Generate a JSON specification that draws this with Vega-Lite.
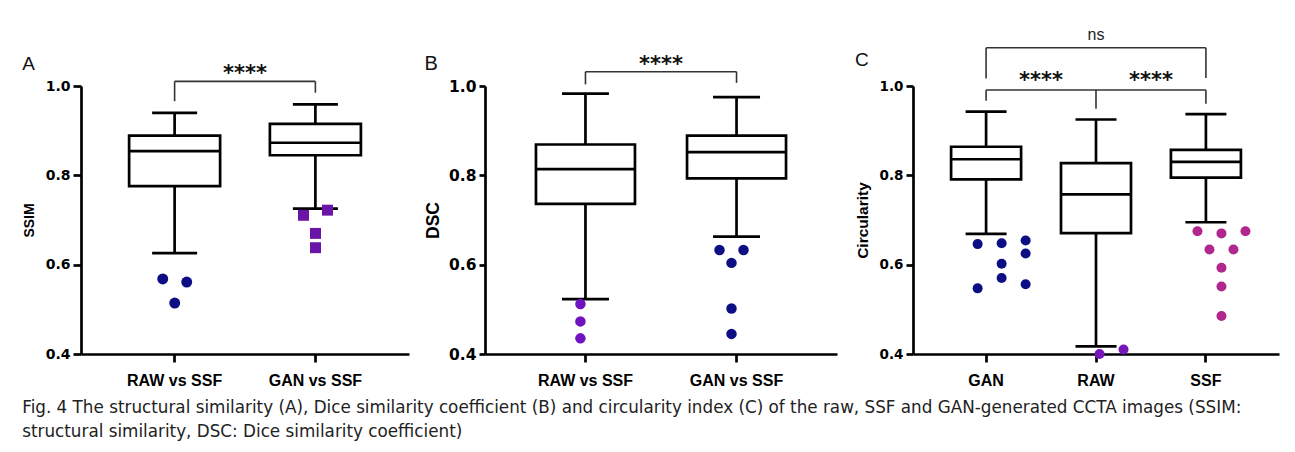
{
  "$schema": "https://vega.github.io/schema/vega-lite/v6.json",
  "background": "white",
  "padding": {"left": 22, "top": 26, "right": 5, "bottom": 5},
  "title": {
    "text": ["Fig. 4  The structural similarity (A), Dice similarity coefficient (B) and circularity index (C) of the raw, SSF and GAN-generated CCTA images (SSIM:", "structural similarity, DSC: Dice similarity coefficient)"],
    "orient": "bottom", "anchor": "start", "frame": "bounds",
    "font": "DejaVu Sans", "fontSize": 16.8, "fontWeight": "normal", "lineHeight": 24, "offset": 12, "color": "#222222"
  },
  "datasets": {
    "boxes": [
      {"panel": "A", "cat": "RAW vs SSF", "lower": 0.626, "q1": 0.776, "median": 0.854, "q3": 0.889, "upper": 0.940},
      {"panel": "A", "cat": "GAN vs SSF", "lower": 0.7255, "q1": 0.845, "median": 0.873, "q3": 0.915, "upper": 0.959},
      {"panel": "B", "cat": "RAW vs SSF", "lower": 0.523, "q1": 0.736, "median": 0.814, "q3": 0.869, "upper": 0.983},
      {"panel": "B", "cat": "GAN vs SSF", "lower": 0.663, "q1": 0.793, "median": 0.852, "q3": 0.889, "upper": 0.975},
      {"panel": "C", "cat": "GAN", "lower": 0.669, "q1": 0.791, "median": 0.836, "q3": 0.864, "upper": 0.9425},
      {"panel": "C", "cat": "RAW", "lower": 0.417, "q1": 0.6705, "median": 0.7575, "q3": 0.8275, "upper": 0.925},
      {"panel": "C", "cat": "SSF", "lower": 0.695, "q1": 0.795, "median": 0.830, "q3": 0.857, "upper": 0.937}
    ],
    "outliers": [
      {"panel": "A", "cat": "RAW vs SSF", "value": 0.568, "slot": -1},
      {"panel": "A", "cat": "RAW vs SSF", "value": 0.561, "slot": 1},
      {"panel": "A", "cat": "RAW vs SSF", "value": 0.514, "slot": 0},
      {"panel": "A", "cat": "GAN vs SSF", "value": 0.7105, "slot": -1},
      {"panel": "A", "cat": "GAN vs SSF", "value": 0.722, "slot": 1},
      {"panel": "A", "cat": "GAN vs SSF", "value": 0.670, "slot": 0},
      {"panel": "A", "cat": "GAN vs SSF", "value": 0.638, "slot": 0},
      {"panel": "B", "cat": "RAW vs SSF", "value": 0.512, "slot": 0},
      {"panel": "B", "cat": "RAW vs SSF", "value": 0.473, "slot": 0},
      {"panel": "B", "cat": "RAW vs SSF", "value": 0.435, "slot": 0},
      {"panel": "B", "cat": "GAN vs SSF", "value": 0.633, "slot": -1},
      {"panel": "B", "cat": "GAN vs SSF", "value": 0.633, "slot": 1},
      {"panel": "B", "cat": "GAN vs SSF", "value": 0.604, "slot": 0},
      {"panel": "B", "cat": "GAN vs SSF", "value": 0.502, "slot": 0},
      {"panel": "B", "cat": "GAN vs SSF", "value": 0.445, "slot": 0},
      {"panel": "C", "cat": "GAN", "value": 0.646, "slot": -2},
      {"panel": "C", "cat": "GAN", "value": 0.648, "slot": 0},
      {"panel": "C", "cat": "GAN", "value": 0.654, "slot": 2},
      {"panel": "C", "cat": "GAN", "value": 0.625, "slot": 2},
      {"panel": "C", "cat": "GAN", "value": 0.602, "slot": 0},
      {"panel": "C", "cat": "GAN", "value": 0.570, "slot": 0},
      {"panel": "C", "cat": "GAN", "value": 0.547, "slot": -2},
      {"panel": "C", "cat": "GAN", "value": 0.556, "slot": 2},
      {"panel": "C", "cat": "RAW", "value": 0.400, "slot": -1},
      {"panel": "C", "cat": "RAW", "value": 0.410, "slot": 1},
      {"panel": "C", "cat": "SSF", "value": 0.675, "slot": -2},
      {"panel": "C", "cat": "SSF", "value": 0.670, "slot": 0},
      {"panel": "C", "cat": "SSF", "value": 0.675, "slot": 2},
      {"panel": "C", "cat": "SSF", "value": 0.634, "slot": -1},
      {"panel": "C", "cat": "SSF", "value": 0.634, "slot": 1},
      {"panel": "C", "cat": "SSF", "value": 0.593, "slot": 0},
      {"panel": "C", "cat": "SSF", "value": 0.551, "slot": 0},
      {"panel": "C", "cat": "SSF", "value": 0.485, "slot": 0}
    ],
    "brackets": [
      {"panel": "A", "from": "RAW vs SSF", "to": "GAN vs SSF", "level": 1.0103},
      {"panel": "B", "from": "RAW vs SSF", "to": "GAN vs SSF", "level": 1.032},
      {"panel": "C", "from": "GAN", "to": "SSF", "level": 1.0857},
      {"panel": "C", "from": "GAN", "to": "RAW", "level": 0.991},
      {"panel": "C", "from": "RAW", "to": "SSF", "level": 0.991}
    ],
    "legs": [
      {"panel": "A", "cat": "RAW vs SSF", "top": 1.0103, "bottom": 0.966},
      {"panel": "A", "cat": "GAN vs SSF", "top": 1.0103, "bottom": 0.985},
      {"panel": "B", "cat": "RAW vs SSF", "top": 1.032, "bottom": 1.0036},
      {"panel": "B", "cat": "GAN vs SSF", "top": 1.032, "bottom": 1.007},
      {"panel": "C", "cat": "GAN", "top": 1.0857, "bottom": 1.017},
      {"panel": "C", "cat": "SSF", "top": 1.0857, "bottom": 1.018},
      {"panel": "C", "cat": "GAN", "top": 0.991, "bottom": 0.967},
      {"panel": "C", "cat": "RAW", "top": 0.991, "bottom": 0.949},
      {"panel": "C", "cat": "SSF", "top": 0.991, "bottom": 0.960}
    ],
    "labels": [
      {"panel": "A", "cat": "RAW vs SSF", "level": 1.027, "label": "****"},
      {"panel": "B", "cat": "RAW vs SSF", "level": 1.047, "label": "****"},
      {"panel": "C", "cat": "GAN", "level": 1.011, "label": "****"},
      {"panel": "C", "cat": "RAW", "level": 1.011, "label": "****"},
      {"panel": "C", "cat": "RAW", "level": 1.115, "label": "ns"}
    ]
  },
  "bounds": "flush",
  "spacing": 76,
  "resolve": {"scale": {"color": "independent", "shape": "independent"}},
  "hconcat": [
    {
      "width": 328, "height": 268,
      "title": {"text": "A", "anchor": "start", "frame": "bounds", "fontSize": 19, "fontWeight": "normal", "offset": -11},
      "encoding": {"x": {"field": "cat", "type": "nominal", "scale": {"domain": ["RAW vs SSF", "GAN vs SSF"], "paddingInner": 0, "paddingOuter": 0.165}, "axis": {"title": null}}},
      "layer": [
        {"data": {"name": "boxes"}, "transform": [{"filter": "datum.panel == 'A'"}], "mark": {"type": "rule", "color": "black", "strokeWidth": 2.7},
         "encoding": {"y": {"field": "lower", "type": "quantitative", "scale": {"domain": [0.4, 1.0], "nice": false, "zero": false}, "axis": {"title": "SSIM", "values": [0.4, 0.6, 0.8, 1.0], "format": ".1f", "titleFontSize": 14, "labelFontSize": 14, "titlePadding": 9}}, "y2": {"field": "upper"}}},
        {"data": {"name": "boxes"}, "transform": [{"filter": "datum.panel == 'A'"}], "mark": {"type": "bar", "size": 91, "fill": "white", "stroke": "black", "strokeWidth": 2.7},
         "encoding": {"y": {"field": "q1", "type": "quantitative", "scale": {"domain": [0.4, 1.0], "nice": false, "zero": false}}, "y2": {"field": "q3"}}},
        {"data": {"name": "boxes"}, "transform": [{"filter": "datum.panel == 'A'"}], "mark": {"type": "tick", "color": "black", "size": 91, "thickness": 2.7, "opacity": 1},
         "encoding": {"y": {"field": "median", "type": "quantitative", "scale": {"domain": [0.4, 1.0], "nice": false, "zero": false}}}},
        {"data": {"name": "boxes"}, "transform": [{"filter": "datum.panel == 'A'"}], "mark": {"type": "tick", "color": "black", "size": 45, "thickness": 2.7, "opacity": 1},
         "encoding": {"y": {"field": "lower", "type": "quantitative", "scale": {"domain": [0.4, 1.0], "nice": false, "zero": false}}}},
        {"data": {"name": "boxes"}, "transform": [{"filter": "datum.panel == 'A'"}], "mark": {"type": "tick", "color": "black", "size": 45, "thickness": 2.7, "opacity": 1},
         "encoding": {"y": {"field": "upper", "type": "quantitative", "scale": {"domain": [0.4, 1.0], "nice": false, "zero": false}}}},
        {"data": {"name": "outliers"}, "transform": [{"filter": "datum.panel == 'A'"}], "mark": {"type": "point", "filled": true, "opacity": 1, "size": 120},
         "encoding": {
           "y": {"field": "value", "type": "quantitative", "scale": {"domain": [0.4, 1.0], "nice": false, "zero": false}},
           "xOffset": {"field": "slot", "type": "quantitative", "scale": {"domain": [-2, 2], "range": [46.5, 94.5]}},
           "color": {"field": "cat", "type": "nominal", "scale": {"domain": ["RAW vs SSF", "GAN vs SSF"], "range": ["#0d0e84", "#6b14a8"]}, "legend": null},
           "shape": {"field": "cat", "type": "nominal", "scale": {"domain": ["RAW vs SSF", "GAN vs SSF"], "range": ["circle", "square"]}, "legend": null}}},
        {"data": {"name": "brackets"}, "transform": [{"filter": "datum.panel == 'A'"}], "mark": {"type": "rule", "color": "#333333", "strokeWidth": 1.6},
         "encoding": {"x": {"field": "from", "type": "nominal"}, "x2": {"field": "to"}, "y": {"field": "level", "type": "quantitative", "scale": {"domain": [0.4, 1.0], "nice": false, "zero": false}}}},
        {"data": {"name": "legs"}, "transform": [{"filter": "datum.panel == 'A'"}], "mark": {"type": "rule", "color": "#333333", "strokeWidth": 1.6},
         "encoding": {"y": {"field": "top", "type": "quantitative", "scale": {"domain": [0.4, 1.0], "nice": false, "zero": false}}, "y2": {"field": "bottom"}}},
        {"data": {"name": "labels"}, "transform": [{"filter": "datum.panel == 'A'"}], "mark": {"type": "text", "font": "DejaVu Sans", "fontWeight": "bold", "fontSize": 21, "baseline": "middle", "color": "#111111"},
         "encoding": {"x": {"field": "cat", "type": "nominal", "bandPosition": 1}, "y": {"field": "level", "type": "quantitative", "scale": {"domain": [0.4, 1.0], "nice": false, "zero": false}}, "text": {"field": "label"}}}
      ]
    },
    {
      "width": 352, "height": 268,
      "title": {"text": "B", "anchor": "start", "frame": "bounds", "fontSize": 20, "fontWeight": "normal", "offset": -20},
      "encoding": {"x": {"field": "cat", "type": "nominal", "scale": {"domain": ["RAW vs SSF", "GAN vs SSF"], "paddingInner": 0, "paddingOuter": 0.165}, "axis": {"title": null}}},
      "layer": [
        {"data": {"name": "boxes"}, "transform": [{"filter": "datum.panel == 'B'"}], "mark": {"type": "rule", "color": "black", "strokeWidth": 2.7},
         "encoding": {"y": {"field": "lower", "type": "quantitative", "scale": {"domain": [0.4, 1.0], "nice": false, "zero": false}, "axis": {"title": "DSC", "values": [0.4, 0.6, 0.8, 1.0], "format": ".1f", "titleFontSize": 17.5, "labelFontSize": 15.5, "titlePadding": 6, "tickSize": 6}}, "y2": {"field": "upper"}}},
        {"data": {"name": "boxes"}, "transform": [{"filter": "datum.panel == 'B'"}], "mark": {"type": "bar", "size": 99, "fill": "white", "stroke": "black", "strokeWidth": 2.7},
         "encoding": {"y": {"field": "q1", "type": "quantitative", "scale": {"domain": [0.4, 1.0], "nice": false, "zero": false}}, "y2": {"field": "q3"}}},
        {"data": {"name": "boxes"}, "transform": [{"filter": "datum.panel == 'B'"}], "mark": {"type": "tick", "color": "black", "size": 99, "thickness": 2.7, "opacity": 1},
         "encoding": {"y": {"field": "median", "type": "quantitative", "scale": {"domain": [0.4, 1.0], "nice": false, "zero": false}}}},
        {"data": {"name": "boxes"}, "transform": [{"filter": "datum.panel == 'B'"}], "mark": {"type": "tick", "color": "black", "size": 47, "thickness": 2.7, "opacity": 1},
         "encoding": {"y": {"field": "lower", "type": "quantitative", "scale": {"domain": [0.4, 1.0], "nice": false, "zero": false}}}},
        {"data": {"name": "boxes"}, "transform": [{"filter": "datum.panel == 'B'"}], "mark": {"type": "tick", "color": "black", "size": 47, "thickness": 2.7, "opacity": 1},
         "encoding": {"y": {"field": "upper", "type": "quantitative", "scale": {"domain": [0.4, 1.0], "nice": false, "zero": false}}}},
        {"data": {"name": "outliers"}, "transform": [{"filter": "datum.panel == 'B'"}], "mark": {"type": "point", "shape": "circle", "filled": true, "opacity": 1, "size": 110},
         "encoding": {
           "y": {"field": "value", "type": "quantitative", "scale": {"domain": [0.4, 1.0], "nice": false, "zero": false}},
           "xOffset": {"field": "slot", "type": "quantitative", "scale": {"domain": [-2, 2], "range": [53, 98]}},
           "color": {"field": "cat", "type": "nominal", "scale": {"domain": ["RAW vs SSF", "GAN vs SSF"], "range": ["#7012bf", "#0d0e84"]}, "legend": null}}},
        {"data": {"name": "brackets"}, "transform": [{"filter": "datum.panel == 'B'"}], "mark": {"type": "rule", "color": "#333333", "strokeWidth": 1.6},
         "encoding": {"x": {"field": "from", "type": "nominal"}, "x2": {"field": "to"}, "y": {"field": "level", "type": "quantitative", "scale": {"domain": [0.4, 1.0], "nice": false, "zero": false}}}},
        {"data": {"name": "legs"}, "transform": [{"filter": "datum.panel == 'B'"}], "mark": {"type": "rule", "color": "#333333", "strokeWidth": 1.6},
         "encoding": {"y": {"field": "top", "type": "quantitative", "scale": {"domain": [0.4, 1.0], "nice": false, "zero": false}}, "y2": {"field": "bottom"}}},
        {"data": {"name": "labels"}, "transform": [{"filter": "datum.panel == 'B'"}], "mark": {"type": "text", "font": "DejaVu Sans", "fontWeight": "bold", "fontSize": 21, "baseline": "middle", "color": "#111111"},
         "encoding": {"x": {"field": "cat", "type": "nominal", "bandPosition": 1}, "y": {"field": "level", "type": "quantitative", "scale": {"domain": [0.4, 1.0], "nice": false, "zero": false}}, "text": {"field": "label"}}}
      ]
    },
    {
      "width": 366, "height": 268,
      "title": {"text": "C", "anchor": "start", "frame": "bounds", "fontSize": 19, "fontWeight": "normal", "offset": -43},
      "encoding": {"x": {"field": "cat", "type": "nominal", "scale": {"domain": ["GAN", "RAW", "SSF"], "paddingInner": 0, "paddingOuter": 0.165}, "axis": {"title": null}}},
      "layer": [
        {"data": {"name": "boxes"}, "transform": [{"filter": "datum.panel == 'C'"}], "mark": {"type": "rule", "color": "black", "strokeWidth": 2.7},
         "encoding": {"y": {"field": "lower", "type": "quantitative", "scale": {"domain": [0.4, 1.0], "nice": false, "zero": false}, "axis": {"title": "Circularity", "values": [0.4, 0.6, 0.8, 1.0], "format": ".1f", "titleFontSize": 15.5, "labelFontSize": 13.5, "titlePadding": 9, "tickSize": 7}}, "y2": {"field": "upper"}}},
        {"data": {"name": "boxes"}, "transform": [{"filter": "datum.panel == 'C'"}], "mark": {"type": "bar", "size": 70, "fill": "white", "stroke": "black", "strokeWidth": 2.7},
         "encoding": {"y": {"field": "q1", "type": "quantitative", "scale": {"domain": [0.4, 1.0], "nice": false, "zero": false}}, "y2": {"field": "q3"}}},
        {"data": {"name": "boxes"}, "transform": [{"filter": "datum.panel == 'C'"}], "mark": {"type": "tick", "color": "black", "size": 70, "thickness": 2.7, "opacity": 1},
         "encoding": {"y": {"field": "median", "type": "quantitative", "scale": {"domain": [0.4, 1.0], "nice": false, "zero": false}}}},
        {"data": {"name": "boxes"}, "transform": [{"filter": "datum.panel == 'C'"}], "mark": {"type": "tick", "color": "black", "size": 41, "thickness": 2.7, "opacity": 1},
         "encoding": {"y": {"field": "lower", "type": "quantitative", "scale": {"domain": [0.4, 1.0], "nice": false, "zero": false}}}},
        {"data": {"name": "boxes"}, "transform": [{"filter": "datum.panel == 'C'"}], "mark": {"type": "tick", "color": "black", "size": 41, "thickness": 2.7, "opacity": 1},
         "encoding": {"y": {"field": "upper", "type": "quantitative", "scale": {"domain": [0.4, 1.0], "nice": false, "zero": false}}}},
        {"data": {"name": "outliers"}, "transform": [{"filter": "datum.panel == 'C'"}], "mark": {"type": "point", "shape": "circle", "filled": true, "opacity": 1, "size": 100},
         "encoding": {
           "y": {"field": "value", "type": "quantitative", "scale": {"domain": [0.4, 1.0], "nice": false, "zero": false}},
           "xOffset": {"field": "slot", "type": "quantitative", "scale": {"domain": [-2, 2], "range": [32, 78]}},
           "color": {"field": "cat", "type": "nominal", "scale": {"domain": ["GAN", "RAW", "SSF"], "range": ["#0d0e84", "#7416b8", "#b0288e"]}, "legend": null}}},
        {"data": {"name": "brackets"}, "transform": [{"filter": "datum.panel == 'C'"}], "mark": {"type": "rule", "color": "#333333", "strokeWidth": 1.6},
         "encoding": {"x": {"field": "from", "type": "nominal"}, "x2": {"field": "to"}, "y": {"field": "level", "type": "quantitative", "scale": {"domain": [0.4, 1.0], "nice": false, "zero": false}}}},
        {"data": {"name": "legs"}, "transform": [{"filter": "datum.panel == 'C'"}], "mark": {"type": "rule", "color": "#333333", "strokeWidth": 1.6},
         "encoding": {"y": {"field": "top", "type": "quantitative", "scale": {"domain": [0.4, 1.0], "nice": false, "zero": false}}, "y2": {"field": "bottom"}}},
        {"data": {"name": "labels"}, "transform": [{"filter": "datum.panel == 'C' && datum.label != 'ns'"}], "mark": {"type": "text", "font": "DejaVu Sans", "fontWeight": "bold", "fontSize": 21, "baseline": "middle", "color": "#111111"},
         "encoding": {"x": {"field": "cat", "type": "nominal", "bandPosition": 1}, "y": {"field": "level", "type": "quantitative", "scale": {"domain": [0.4, 1.0], "nice": false, "zero": false}}, "text": {"field": "label"}}},
        {"data": {"name": "labels"}, "transform": [{"filter": "datum.panel == 'C' && datum.label == 'ns'"}], "mark": {"type": "text", "font": "Liberation Sans", "fontSize": 16, "baseline": "middle", "color": "#222222"},
         "encoding": {"x": {"field": "cat", "type": "nominal", "bandPosition": 0.5}, "y": {"field": "level", "type": "quantitative", "scale": {"domain": [0.4, 1.0], "nice": false, "zero": false}}, "text": {"field": "label"}}}
      ]
    }
  ],
  "config": {
    "view": {"stroke": null},
    "font": "Liberation Sans",
    "title": {"font": "Liberation Sans", "color": "#111111"},
    "axis": {
      "grid": false, "domainColor": "black", "domainWidth": 2.7, "tickColor": "black", "tickWidth": 2.7, "tickSize": 8,
      "labelColor": "black", "titleColor": "black", "labelFont": "Liberation Sans", "titleFont": "Liberation Sans",
      "labelFontWeight": "bold", "titleFontWeight": "bold"
    },
    "axisX": {"labelFontSize": 16, "labelPadding": 10, "labelAngle": 0},
    "axisY": {"labelFont": "DejaVu Sans", "labelPadding": 3}
  }
}
